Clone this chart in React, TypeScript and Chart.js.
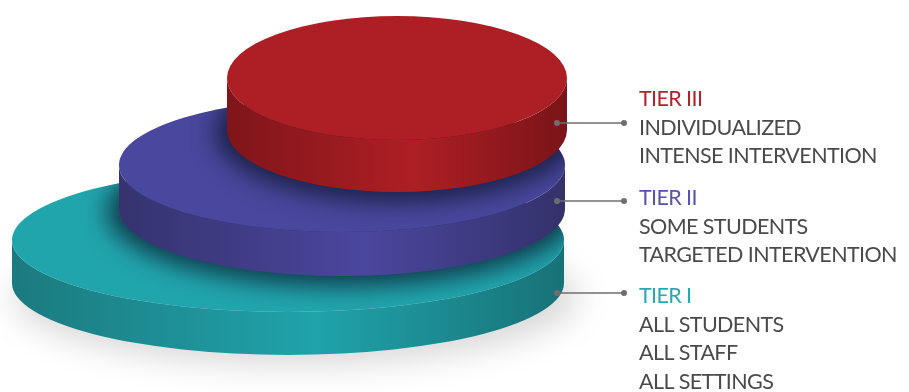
import React, { useEffect, useRef } from "react";
import { Chart, registerables } from "chart.js";

Chart.register(...registerables);

// ---- data ----
const tiers = ["TIER III", "TIER II", "TIER I"];
const descriptions = [
  ["INDIVIDUALIZED", "INTENSE INTERVENTION"],
  ["SOME STUDENTS", "TARGETED INTERVENTION"],
  ["ALL STUDENTS", "ALL STAFF", "ALL SETTINGS"],
];
// disc geometry in chart units (x: 0..909, y: 0..392 top-down)
const centerX = [397, 342, 288];
const topY = [78, 165, 240];
const radiusX = [170, 223, 276];
const radiusY = [62, 67, 72];
const thickness = [52, 44, 43];
const leaderY = [123, 201, 293];
const labelTopY = [106, 205, 303];

// ---- styles ----
const tierTextColors = ["#b3222b", "#5753aa", "#26aab2"];
const topColors = ["#ad1f24", "#4a479e", "#21a5ad"];
const sideLeft = ["#7f151a", "#36336f", "#1b7a7f"];
const sideMid = ["#ad1f24", "#4a479e", "#20a3ab"];
const sideRight = ["#7a1418", "#34316b", "#177277"];

const W = 909;
const H = 392;

const discPlugin = {
  id: "discs",
  afterDatasetsDraw(chart: any) {
    const ctx: CanvasRenderingContext2D = chart.ctx;
    const xs = chart.scales.x;
    const ys = chart.scales.y;
    const px = (v: number) => xs.getPixelForValue(v);
    const py = (v: number) => ys.getPixelForValue(v);
    const n = tiers.length;
    const geo = (i: number) => {
      const cx = px(centerX[i]);
      const cy = py(topY[i]);
      const rx = px(centerX[i] + radiusX[i]) - cx;
      const ry = py(topY[i] + radiusY[i]) - cy;
      const h = py(topY[i] + thickness[i]) - cy;
      return { cx, cy, rx, ry, h };
    };

    // ground shadow under the lowest disc
    {
      const g = geo(n - 1);
      ctx.save();
      ctx.filter = "blur(16px)";
      ctx.fillStyle = "rgba(0,0,0,0.15)";
      ctx.beginPath();
      ctx.ellipse(g.cx + 8, g.cy + g.h + 14, g.rx + 6, g.ry - 4, 0, 0, Math.PI * 2);
      ctx.fill();
      ctx.restore();
    }

    for (let i = n - 1; i >= 0; i--) {
      const g = geo(i);
      // shadow cast onto the disc below
      if (i < n - 1) {
        const b = geo(i + 1);
        ctx.save();
        ctx.beginPath();
        ctx.ellipse(b.cx, b.cy, b.rx, b.ry, 0, 0, Math.PI * 2);
        ctx.clip();
        ctx.filter = "blur(12px)";
        ctx.fillStyle = "rgba(8,16,36,0.72)";
        ctx.beginPath();
        ctx.ellipse(g.cx, g.cy + g.h + 2, g.rx + 12, g.ry + 8, 0, 0, Math.PI * 2);
        ctx.fill();
        ctx.restore();
      }
      // side
      const grad = ctx.createLinearGradient(g.cx - g.rx, 0, g.cx + g.rx, 0);
      grad.addColorStop(0, sideLeft[i]);
      grad.addColorStop(0.55, sideMid[i]);
      grad.addColorStop(1, sideRight[i]);
      ctx.save();
      ctx.fillStyle = grad;
      ctx.beginPath();
      ctx.moveTo(g.cx - g.rx, g.cy);
      ctx.lineTo(g.cx - g.rx, g.cy + g.h);
      ctx.ellipse(g.cx, g.cy + g.h, g.rx, g.ry, 0, Math.PI, 0, true);
      ctx.lineTo(g.cx + g.rx, g.cy);
      ctx.ellipse(g.cx, g.cy, g.rx, g.ry, 0, 0, Math.PI, false);
      ctx.closePath();
      ctx.fill();
      // top
      ctx.fillStyle = topColors[i];
      ctx.beginPath();
      ctx.ellipse(g.cx, g.cy, g.rx, g.ry, 0, 0, Math.PI * 2);
      ctx.fill();
      ctx.restore();
    }

    // leaders and labels
    const x0 = px(557);
    const x1 = px(624);
    const tx = px(639);
    const lineGap = 28.7;
    ctx.save();
    for (let i = 0; i < n; i++) {
      const y = py(leaderY[i]);
      ctx.strokeStyle = "#6e6e6e";
      ctx.lineWidth = 1.5;
      ctx.beginPath();
      ctx.moveTo(x0, y);
      ctx.lineTo(x1, y);
      ctx.stroke();
      ctx.fillStyle = "#6e6e6e";
      for (const x of [x0, x1]) {
        ctx.beginPath();
        ctx.arc(x, y, 3, 0, Math.PI * 2);
        ctx.fill();
      }
      ctx.font = "21.5px Lato";
      (ctx as any).letterSpacing = "-0.6px";
      ctx.textBaseline = "alphabetic";
      ctx.textAlign = "left";
      const base = py(labelTopY[i]);
      ctx.fillStyle = tierTextColors[i];
      ctx.fillText(tiers[i], tx, base);
      ctx.fillStyle = "#4a4a4a";
      descriptions[i].forEach((d, k) => {
        ctx.fillText(d, tx, base + lineGap * (k + 1));
      });
    }
    ctx.restore();
  },
};

export default function App() {
  const ref = useRef<HTMLCanvasElement>(null);
  useEffect(() => {
    document.body.style.margin = "0";
    const canvas = ref.current!;
    const chart = new Chart(canvas, {
      type: "scatter",
      data: {
        datasets: tiers.map((t, i) => ({
          label: t,
          data: [{ x: centerX[i], y: topY[i] }],
          pointRadius: 0,
          backgroundColor: topColors[i],
        })),
      },
      options: {
        responsive: false,
        animation: false,
        devicePixelRatio: 1,
        layout: { padding: 0 },
        events: [],
        plugins: { legend: { display: false }, tooltip: { enabled: false } },
        scales: {
          x: { type: "linear", min: 0, max: W, display: false },
          y: { type: "linear", min: 0, max: H, reverse: true, display: false },
        },
      },
      plugins: [discPlugin],
    });
    return () => chart.destroy();
  }, []);
  return (
    <div style={{ position: "absolute", left: 0, top: 0, width: W, height: H, background: "#fff" }}>
      <canvas ref={ref} width={W} height={H} />
    </div>
  );
}
